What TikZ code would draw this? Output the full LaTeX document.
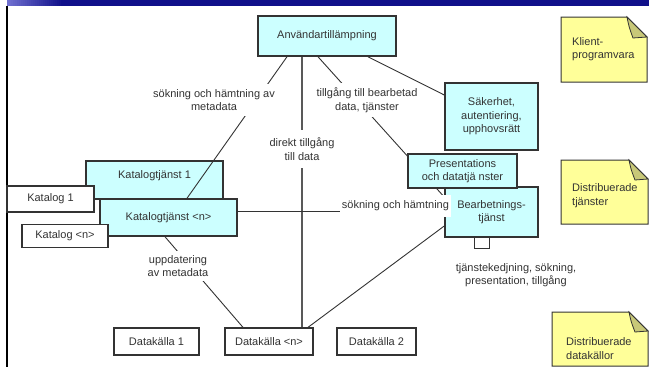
\documentclass[tikz,border=0pt]{standalone}
\usepackage{fontspec}
\setmainfont{Liberation Sans}
\usetikzlibrary{calc}
\definecolor{boxfill}{HTML}{CCFFFF}
\definecolor{edgegray}{HTML}{333333}
\definecolor{notefill}{HTML}{FFFF99}
\definecolor{foldfill}{HTML}{C8C878}
\definecolor{bandnavy}{HTML}{10108A}
\definecolor{bandlight}{HTML}{7070D0}
\definecolor{txt}{HTML}{333333}
\tikzset{
  every node/.style={font=\fontsize{11}{13.5}\selectfont, text=txt},
  svc/.style={draw=edgegray, line width=1.5pt, fill=boxfill, inner sep=0pt, align=center},
  plain/.style={draw=edgegray, line width=1.3pt, fill=white, inner sep=0pt, align=center},
  link/.style={draw=edgegray, line width=0.9pt},
  lbl/.style={fill=white, align=center, inner xsep=2pt, inner ysep=5pt},
  notetext/.style={anchor=west, align=left, inner sep=0pt},
}
% folded note: corner (x1,y1), opposite corner (x2,y2), fold size f
\newcommand\foldnote[5]{%
  \filldraw[draw=edgegray, line width=1pt, fill=notefill]
    (#1,#2) -- ({#3-#5},#2) -- (#3,{#2+#5}) -- (#3,#4) -- (#1,#4) -- cycle;
  \filldraw[draw=edgegray, line width=0.8pt, fill=foldfill]
    ({#3-#5},#2) .. controls ({#3-#5+2},{#2+#5*0.5}) .. ({#3-#5+6},{#2+#5+1})
    -- (#3,{#2+#5}) -- cycle;
}
\begin{document}
\begin{tikzpicture}[x=1pt, y=-1pt]
\useasboundingbox (0,0) rectangle (649,367);
\fill[white] (0,0) rectangle (649,367);

% title band with a soft start, and left rule
\fill[bandnavy] (7,0) rectangle (649,6);
\foreach \i in {0,...,27} {
  \pgfmathsetmacro\mix{100-\i*100/27}
  \fill[bandlight!\mix!bandnavy] ({7+2*\i},0) rectangle ({9.2+2*\i},6);
}
\fill[black] (5.5,6) rectangle (8,367);

% catalogue services and catalogues
\node[svc, minimum width=137pt, minimum height=38pt] (kt1) at (154.5,180) {};
\node[anchor=center] (kt1t) at (154.5,176) {Katalogtjänst 1};
\node[plain, minimum width=87pt, minimum height=26pt] (k1) at (50.5,199) {Katalog 1};
\node[svc, minimum width=137pt, minimum height=37pt] (ktn) at (168.5,217.5) {Katalogtjänst <n>};
\node[plain, minimum width=86pt, minimum height=23pt] (kn) at (65,236) {Katalog <n>};

% application, services
\node[svc, minimum width=138pt, minimum height=40pt] (anv) at (327,36) {Användartillämpning};
\node[svc, minimum width=93pt, minimum height=67pt] (sak) at (491.5,116.5) {Säkerhet,\\autentiering,\\upphovsrätt};
\node[svc, minimum width=93pt, minimum height=50pt] (bear) at (491.5,212) {Bearbetnings-\\tjänst};
\node[plain, line width=1pt, minimum width=15pt, minimum height=11pt] (port) at (481.5,242.5) {};

% data sources
\node[plain, minimum width=85pt, minimum height=27pt] (dk1) at (156.5,341.5) {Datakälla 1};
\node[plain, minimum width=88pt, minimum height=27pt] (dkn) at (269,341.5) {Datakälla <n>};
\node[plain, minimum width=79pt, minimum height=27pt] (dk2) at (376.5,341.5) {Datakälla 2};

% connectors
\draw[link] ([xshift=-40pt]anv.south) -- ([xshift=18.5pt]ktn.north);
\draw[draw=gray!70!black, line width=1.4pt] ([xshift=-25pt]anv.south) -- ([xshift=33pt]dkn.north);
\draw[link] ([xshift=-9pt]anv.south) -- ([yshift=15pt]bear.west);
\draw[link] ([xshift=41pt]anv.south) -- ([yshift=21.5pt]sak.west);
\draw[link] ([yshift=6.5pt]ktn.east) -- ([yshift=6.5pt]ktn.east -| bear.west);
\draw[link] ([xshift=-3.5pt]ktn.south) -- ([xshift=-26pt]dkn.north);
\draw[link] ([yshift=-14pt]bear.west) -- ([xshift=39pt]dkn.north);

% connector labels
\node[lbl] (l1) at (214,100) {sökning och hämtning av\\metadata};
\node[lbl, inner ysep=8pt] (l2) at (302,149) {direkt tillgång\\till data};
\node[lbl] (l3) at (367,100) {tillgång till bearbetad\\data, tjänster};
\node[lbl, inner ysep=6pt] (l4) at (395.5,206) {sökning och hämtning};
\node[lbl, inner ysep=4pt] (l5) at (178,266) {uppdatering\\av metadata};
\node[align=center] (l6) at (516,275) {tjänstekedjning, sökning,\\presentation, tillgång};

% presentation service, in front of the connector behind it
\node[svc, minimum width=109pt, minimum height=34pt] (pres) at (462.5,171) {Presentations\\och datatjä nster};

% notes
\foldnote{561}{17}{647}{82}{20}
\node[notetext] (n1) at (572,49) {Klient-\\programvara};
\foldnote{561}{160}{648}{224}{19}
\node[notetext] (n2) at (572,195.5) {Distribuerade\\tjänster};
\foldnote{552}{312}{648}{366}{19}
\node[notetext] (n3) at (566,348.5) {Distribuerade\\datakällor};
\end{tikzpicture}
\end{document}
